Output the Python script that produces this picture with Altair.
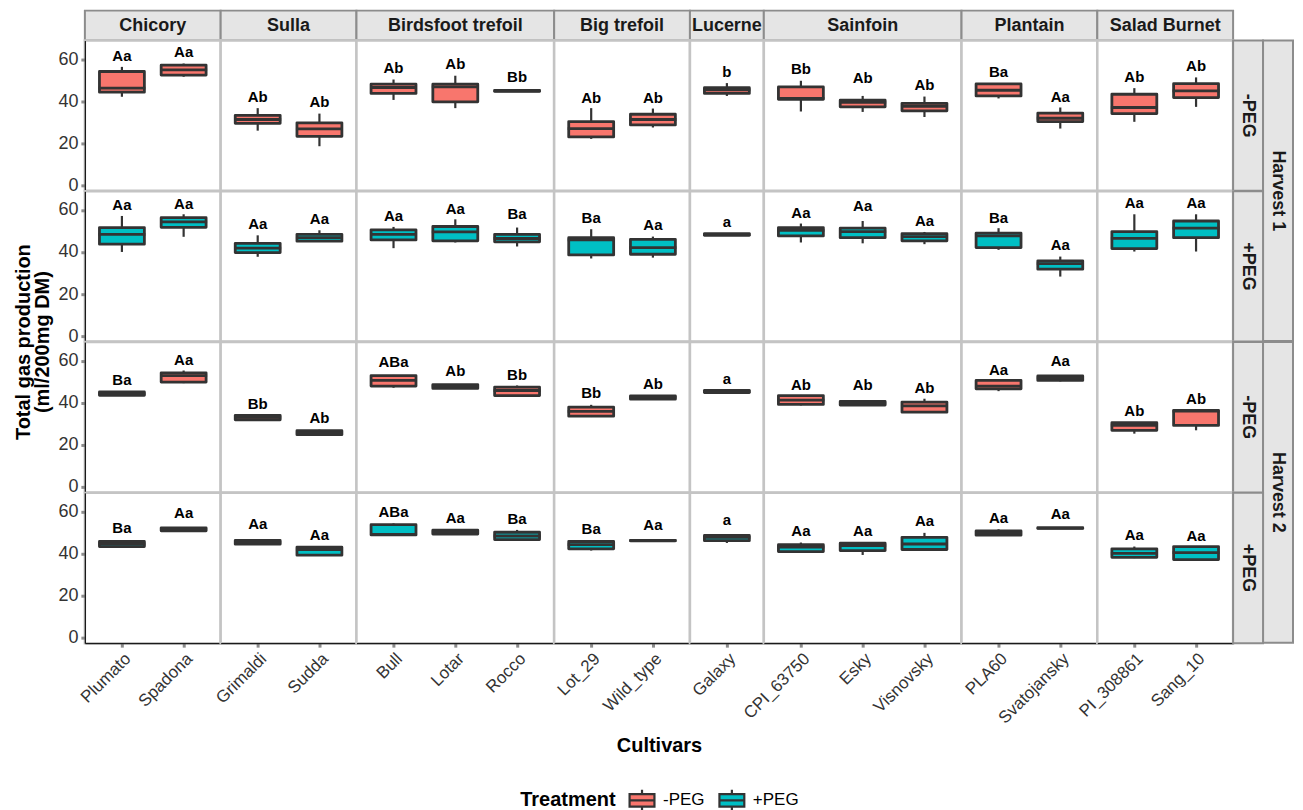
import altair as alt
import pandas as pd

FONT = "Liberation Sans"

SPECIES = ["Chicory", "Sulla", "Birdsfoot trefoil", "Big trefoil", "Lucerne",
           "Sainfoin", "Plantain", "Salad Burnet"]
CULTIVARS = ["Plumato", "Spadona", "Grimaldi", "Sudda", "Bull", "Lotar", "Rocco",
             "Lot_29", "Wild_type", "Galaxy", "CPI_63750", "Esky", "Visnovsky",
             "PLA60", "Svatojansky", "PI_308861", "Sang_10"]
CULTIVAR_SPECIES = ["Chicory", "Chicory", "Sulla", "Sulla", "Birdsfoot trefoil",
                    "Birdsfoot trefoil", "Birdsfoot trefoil", "Big trefoil", "Big trefoil",
                    "Lucerne", "Sainfoin", "Sainfoin", "Sainfoin", "Plantain", "Plantain",
                    "Salad Burnet", "Salad Burnet"]
HARVESTS = ["Harvest 1", "Harvest 2"]
TREATMENTS = ["-PEG", "+PEG"]
TREATMENT_COLORS = ["#F8766D", "#00BFC4"]

# Harvest 1, -PEG
H1_NEG_LOW = [42.1, 51.6, 26.0, 18.6, 40.6, 36.7, 44.6, 22.1, 27.5, 42.5, 35.1, 34.9, 32.5, 41.3, 27.0, 30.2, 37.3]
H1_NEG_Q1 = [44.3, 52.4, 29.5, 23.3, 43.7, 39.7, 44.7, 23.0, 28.7, 43.7, 40.9, 37.3, 35.4, 42.5, 30.3, 34.1, 41.7]
H1_NEG_MED = [46.2, 54.9, 31.3, 26.8, 46.5, 46.8, 44.9, 27.0, 31.3, 45.4, 41.3, 39.4, 37.6, 45.2, 31.9, 37.0, 44.9]
H1_NEG_Q3 = [54.1, 57.1, 33.3, 29.7, 48.1, 48.1, 45.1, 30.3, 33.8, 46.4, 46.8, 40.5, 39.0, 48.2, 34.3, 43.3, 48.3]
H1_NEG_HIGH = [56.3, 57.9, 36.7, 34.1, 50.3, 52.1, 45.3, 36.7, 36.5, 48.6, 49.7, 42.5, 42.2, 48.4, 37.0, 46.2, 51.3]
H1_NEG_LABEL_Y = [61.6, 63.2, 42.1, 39.7, 56.0, 57.6, 51.6, 41.7, 41.7, 54.1, 55.2, 50.8, 47.8, 53.7, 42.2, 51.6, 56.8]
H1_NEG_LETTERS = ["Aa", "Aa", "Ab", "Ab", "Ab", "Ab", "Bb", "Ab", "Ab", "b", "Bb", "Ab", "Ab", "Ba", "Aa", "Ab", "Ab"]

# Harvest 1, +PEG
H1_POS_LOW = [40.0, 47.2, 37.7, 44.8, 41.8, 44.5, 42.6, 36.9, 37.3, 47.8, 44.5, 44.1, 43.7, 41.0, 28.3, 40.2, 40.2]
H1_POS_Q1 = [43.7, 51.7, 39.7, 45.1, 45.7, 45.3, 44.8, 38.6, 38.9, 47.9, 47.6, 46.8, 45.3, 42.1, 31.8, 41.6, 46.8]
H1_POS_MED = [48.4, 54.3, 41.8, 46.8, 48.4, 49.5, 46.4, 45.7, 42.1, 48.3, 50.3, 49.7, 47.3, 47.6, 34.5, 46.5, 51.3]
H1_POS_Q3 = [51.6, 56.3, 44.1, 48.4, 50.5, 52.1, 48.4, 46.8, 46.0, 48.7, 51.6, 51.3, 48.7, 48.9, 35.8, 49.7, 54.7]
H1_POS_HIGH = [57.1, 57.9, 47.9, 50.3, 51.9, 55.5, 51.6, 50.8, 47.3, 48.9, 53.5, 54.7, 49.5, 51.3, 37.8, 57.9, 57.9]
H1_POS_LABEL_Y = [62.3, 62.7, 53.2, 55.5, 57.1, 60.6, 57.9, 56.0, 52.8, 54.0, 58.7, 61.9, 54.7, 56.3, 43.2, 63.4, 63.4]
H1_POS_LETTERS = ["Aa", "Aa", "Aa", "Aa", "Aa", "Aa", "Ba", "Ba", "Aa", "a", "Aa", "Aa", "Aa", "Ba", "Aa", "Aa", "Aa"]

# Harvest 2, -PEG
H2_NEG_LOW = [43.3, 49.3, 31.4, 24.6, 47.1, 46.6, 42.9, 33.2, 41.5, 44.6, 38.7, 38.7, 35.2, 45.5, 50.1, 25.3, 26.9]
H2_NEG_Q1 = [43.5, 49.8, 31.9, 24.8, 47.9, 46.8, 43.4, 33.6, 41.7, 44.8, 39.2, 38.9, 35.5, 46.6, 50.6, 26.9, 29.2]
H2_NEG_MED = [44.2, 52.9, 33.0, 25.8, 50.6, 47.9, 45.8, 35.9, 42.7, 45.3, 41.2, 39.8, 38.5, 47.9, 51.8, 29.2, 36.0]
H2_NEG_Q3 = [45.1, 54.2, 34.0, 26.7, 52.9, 48.6, 47.4, 37.9, 43.2, 45.8, 43.4, 40.6, 40.3, 50.6, 52.7, 30.5, 36.3]
H2_NEG_HIGH = [45.5, 55.3, 34.1, 27.2, 53.2, 48.8, 48.2, 39.0, 43.4, 46.0, 43.7, 40.8, 41.9, 50.8, 52.9, 30.7, 36.8]
H2_NEG_LABEL_Y = [51.0, 60.3, 39.2, 32.9, 59.2, 55.3, 53.4, 44.5, 48.7, 51.3, 48.5, 48.2, 47.1, 55.6, 59.7, 35.9, 41.9]
H2_NEG_LETTERS = ["Ba", "Aa", "Bb", "Ab", "ABa", "Ab", "Bb", "Bb", "Ab", "a", "Ab", "Ab", "Ab", "Aa", "Aa", "Ab", "Ab"]

# Harvest 2, +PEG
H2_POS_LOW = [43.0, 50.6, 44.2, 39.0, 48.8, 49.0, 46.1, 41.4, 45.9, 45.0, 40.3, 39.3, 41.9, 48.5, 51.9, 37.8, 36.7]
H2_POS_Q1 = [43.3, 50.8, 44.4, 39.2, 48.8, 49.2, 46.6, 42.2, 46.0, 46.1, 40.9, 41.4, 41.9, 48.7, 52.0, 38.2, 37.1]
H2_POS_MED = [44.5, 51.5, 45.3, 41.9, 49.1, 50.2, 48.3, 44.2, 46.1, 47.7, 43.0, 43.8, 44.5, 49.8, 52.1, 40.1, 40.4]
H2_POS_Q3 = [45.7, 52.2, 46.2, 43.0, 53.7, 51.1, 50.1, 45.7, 46.2, 48.6, 44.2, 44.9, 47.7, 50.7, 52.2, 42.2, 43.3]
H2_POS_HIGH = [46.4, 52.4, 46.4, 43.4, 54.3, 51.3, 51.2, 46.4, 46.3, 48.8, 45.2, 45.3, 49.8, 51.5, 52.3, 43.3, 43.5]
H2_POS_LABEL_Y = [52.0, 59.2, 54.0, 49.0, 59.9, 56.9, 56.4, 51.7, 53.7, 55.9, 50.6, 50.9, 55.3, 56.9, 58.8, 48.8, 48.2]
H2_POS_LETTERS = ["Ba", "Aa", "Aa", "Aa", "ABa", "Aa", "Ba", "Ba", "Aa", "a", "Aa", "Aa", "Aa", "Aa", "Aa", "Aa", "Aa"]

Y_TICKS = [0, 20, 40, 60]
Y_DOMAIN = [-2.6, 68.8]

CONDITIONS = [
    ("Harvest 1", "-PEG", H1_NEG_LOW, H1_NEG_Q1, H1_NEG_MED, H1_NEG_Q3, H1_NEG_HIGH, H1_NEG_LABEL_Y, H1_NEG_LETTERS),
    ("Harvest 1", "+PEG", H1_POS_LOW, H1_POS_Q1, H1_POS_MED, H1_POS_Q3, H1_POS_HIGH, H1_POS_LABEL_Y, H1_POS_LETTERS),
    ("Harvest 2", "-PEG", H2_NEG_LOW, H2_NEG_Q1, H2_NEG_MED, H2_NEG_Q3, H2_NEG_HIGH, H2_NEG_LABEL_Y, H2_NEG_LETTERS),
    ("Harvest 2", "+PEG", H2_POS_LOW, H2_POS_Q1, H2_POS_MED, H2_POS_Q3, H2_POS_HIGH, H2_POS_LABEL_Y, H2_POS_LETTERS),
]

records = []
for h, t, lo, q1, me, q3, hi, ly, le in CONDITIONS:
    for i, c in enumerate(CULTIVARS):
        records.append(dict(harvest=h, treatment=t, species=CULTIVAR_SPECIES[i], cultivar=c,
                            low=lo[i], q1=q1[i], med=me[i], q3=q3[i], high=hi[i],
                            label_y=ly[i], letter=le[i]))
df = pd.DataFrame(records)

# layout constants
STEP = 61.8
PANEL_H = 150.5
HEADER_H = 30
STRIP_W = 30
BOX_W = 45
STRIP_FILL = "#E5E5E5"
STRIP_STROKE = "#8C8C8C"
PANEL_STROKE = "#C4C4C4"
DARK = "#333333"
STRIP_FONT = 18
AXIS_FONT = 17
YTICK_FONT = 18
TITLE_FONT = 20

n_per_species = [CULTIVAR_SPECIES.count(s) for s in SPECIES]
widths = [round((n + 0.2) * STEP) for n in n_per_species]
total_w = sum(widths)
lefts = [sum(widths[:i]) for i in range(len(widths))]

BOX_PATH = "M-1,-0.5H1V0.5H-1Z M-1,0H1 M0,-0.5V-0.85 M0,0.5V0.85"

legend = alt.Legend(
    title="Treatment", orient="none", direction="horizontal", titleOrient="left",
    legendX=436, legendY=777, titleFontSize=TITLE_FONT, titleFontWeight="bold", titleColor="black",
    labelFontSize=AXIS_FONT, labelColor="black", symbolType=BOX_PATH, symbolSize=620,
    symbolStrokeColor=DARK, symbolStrokeWidth=2.2, symbolOpacity=1, titlePadding=12,
    columnPadding=10, labelOffset=7,
)


def panel(ri, si):
    h, t = CONDITIONS[ri][0], CONDITIONS[ri][1]
    sp = SPECIES[si]
    cults = [c for c, s in zip(CULTIVARS, CULTIVAR_SPECIES) if s == sp]
    d = df[(df.harvest == h) & (df.treatment == t) & (df.species == sp)]
    last_row = ri == 3
    first_col = si == 0

    if last_row:
        xtitle = None
        extra = {}
        if si == 3:
            xtitle = "Cultivars"
            extra = dict(titleX=total_w / 2 - lefts[si], titleY=103, titleFontSize=TITLE_FONT,
                         titleFontWeight="bold", titleColor="black", titleBaseline="middle")
        xaxis = alt.Axis(title=xtitle, labelAngle=-45, labelAlign="right", labelBaseline="top",
                         labelFontSize=AXIS_FONT, labelColor=DARK, tickColor="#8C8C8C", tickWidth=3,
                         tickSize=4, domainColor="#1A1A1A", domainWidth=1.3, grid=False,
                         labelPadding=3, **extra)
    else:
        xaxis = None
    if first_col:
        extra = {}
        ytitle = None
        if ri == 1:
            ytitle = ["Total gas production", "(ml/200mg DM)"]
            extra = dict(titleX=-61, titleY=PANEL_H, titleFontSize=TITLE_FONT, titleFontWeight="bold",
                         titleColor="black", titleAlign="center", titleBaseline="middle",
                         titleAngle=-90, titleLineHeight=19)
        yaxis = alt.Axis(title=ytitle, values=Y_TICKS, labelFontSize=YTICK_FONT, labelColor=DARK,
                         tickColor="#8C8C8C", tickWidth=3, tickSize=4, domainColor="#1A1A1A",
                         domainWidth=1.3, grid=False, labelPadding=3, **extra)
    else:
        yaxis = None

    x = alt.X("cultivar:N", sort=cults,
              scale=alt.Scale(type="point", padding=0.6, domain=cults), axis=xaxis)
    base = alt.Chart(d).encode(x=x)
    whisk = base.mark_rule(color=DARK, strokeWidth=2.2).encode(
        y=alt.Y("low:Q", scale=alt.Scale(domain=Y_DOMAIN, nice=False, zero=False), axis=yaxis),
        y2="high:Q")
    box = base.mark_bar(size=BOX_W, stroke=DARK, strokeWidth=2.8, strokeJoin="round").encode(
        y="q1:Q", y2="q3:Q",
        fill=alt.Fill("treatment:N", scale=alt.Scale(domain=TREATMENTS, range=TREATMENT_COLORS),
                      legend=legend))
    med = base.mark_tick(color=DARK, size=BOX_W + 2, thickness=2.8, opacity=1).encode(y="med:Q")
    lab = base.mark_text(fontWeight="bold", fontSize=15, color="black", baseline="middle").encode(
        y="label_y:Q", text="letter:N")
    return alt.layer(whisk, box, med, lab).properties(
        width=widths[si], height=PANEL_H,
        view=alt.ViewBackground(fill="white", stroke=PANEL_STROKE, strokeWidth=2.5))


def header(text, w):
    return alt.Chart(pd.DataFrame({"t": [text]})).mark_text(
        fontWeight="bold", fontSize=STRIP_FONT, color="#1A1A1A", baseline="middle").encode(
        text="t:N").properties(width=w, height=HEADER_H,
                               view=alt.ViewBackground(fill=STRIP_FILL, stroke=STRIP_STROKE,
                                                       strokeWidth=2))


def blank(w, h):
    return alt.Chart(pd.DataFrame({"t": [""]})).mark_text().encode(text="t:N").properties(
        width=w, height=h, view=alt.ViewBackground(stroke="transparent"))


def inner_strip(text):
    return alt.Chart(pd.DataFrame({"t": [text]})).mark_text(
        fontWeight="bold", fontSize=STRIP_FONT, color="#1A1A1A", angle=90, baseline="middle").encode(
        text="t:N").properties(width=STRIP_W, height=PANEL_H,
                               view=alt.ViewBackground(fill=STRIP_FILL, stroke=STRIP_STROKE,
                                                       strokeWidth=2))


def outer_strip(text):
    src = pd.DataFrame({"t": [text]})
    rect = alt.Chart(src).mark_rect(fill=STRIP_FILL, stroke=STRIP_STROKE, strokeWidth=2).encode(
        x=alt.value(0), x2=alt.value(STRIP_W), y=alt.value(0), y2=alt.value(2 * PANEL_H))
    txt = alt.Chart(src).mark_text(fontWeight="bold", fontSize=STRIP_FONT, color="#1A1A1A", angle=90,
                                   baseline="middle").encode(
        text="t:N", x=alt.value(STRIP_W / 2), y=alt.value(PANEL_H))
    return alt.layer(rect, txt).properties(width=STRIP_W, height=PANEL_H,
                                           view=alt.ViewBackground(stroke="transparent"))


cells = []
for si, sp in enumerate(SPECIES):
    cells.append(header(sp, widths[si]))
cells.append(blank(STRIP_W, HEADER_H))
cells.append(blank(STRIP_W, HEADER_H))
for ri in range(4):
    for si in range(len(SPECIES)):
        cells.append(panel(ri, si))
    cells.append(inner_strip(CONDITIONS[ri][1]))
    if ri % 2 == 0:
        cells.append(outer_strip(CONDITIONS[ri][0]))
    else:
        cells.append(blank(STRIP_W, PANEL_H))

chart = alt.concat(*cells, columns=len(SPECIES) + 2, spacing=0, bounds="flush", align="each").resolve_scale(
    x="independent").properties(
    padding={"left": 4, "top": 1, "right": 0, "bottom": 0}
).configure(font=FONT).configure_view(stroke="transparent")

chart.save("out.html", embed_options={"renderer": "svg", "actions": False})
